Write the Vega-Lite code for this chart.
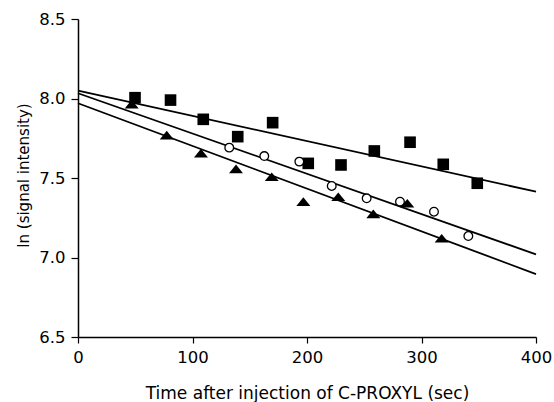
{
  "$schema": "https://vega.github.io/schema/vega-lite/v6.json",
  "width": 458,
  "height": 318,
  "autosize": {"type": "none"},
  "padding": {"left": 78, "top": 19, "right": 18, "bottom": 65},
  "background": "white",
  "config": {
    "view": {"stroke": null},
    "axis": {
      "grid": false,
      "domainColor": "black",
      "domainWidth": 1.5,
      "tickColor": "black",
      "tickWidth": 1.2,
      "labelColor": "black",
      "labelFont": "DejaVu Sans",
      "labelFontSize": 16.5,
      "labelPadding": 6,
      "labelFlush": false,
      "titleColor": "black",
      "titleFont": "DejaVu Sans",
      "titleFontWeight": "normal"
    }
  },
  "datasets": {
    "pts": [
      {"series": "squares", "t": 49.8, "v": 8.005},
      {"series": "squares", "t": 80.8, "v": 7.99},
      {"series": "squares", "t": 109.4, "v": 7.869},
      {"series": "squares", "t": 139.5, "v": 7.76},
      {"series": "squares", "t": 170.0, "v": 7.848},
      {"series": "squares", "t": 201.1, "v": 7.592},
      {"series": "squares", "t": 229.7, "v": 7.582},
      {"series": "squares", "t": 258.8, "v": 7.67},
      {"series": "squares", "t": 290.0, "v": 7.725},
      {"series": "squares", "t": 319.0, "v": 7.586},
      {"series": "squares", "t": 348.7, "v": 7.467},
      {"series": "circles", "t": 132.1, "v": 7.691},
      {"series": "circles", "t": 162.7, "v": 7.638},
      {"series": "circles", "t": 193.3, "v": 7.603},
      {"series": "circles", "t": 221.6, "v": 7.45},
      {"series": "circles", "t": 252.1, "v": 7.372},
      {"series": "circles", "t": 281.2, "v": 7.351},
      {"series": "circles", "t": 310.9, "v": 7.288},
      {"series": "circles", "t": 340.9, "v": 7.135},
      {"series": "triangles", "t": 46.9, "v": 7.965},
      {"series": "triangles", "t": 77.5, "v": 7.77},
      {"series": "triangles", "t": 107.4, "v": 7.657},
      {"series": "triangles", "t": 138.0, "v": 7.557},
      {"series": "triangles", "t": 169.2, "v": 7.508},
      {"series": "triangles", "t": 196.8, "v": 7.351},
      {"series": "triangles", "t": 227.3, "v": 7.382},
      {"series": "triangles", "t": 257.9, "v": 7.274},
      {"series": "triangles", "t": 287.6, "v": 7.341},
      {"series": "triangles", "t": 317.6, "v": 7.121}
    ],
    "fits": [
      {"series": "squares", "t": 0, "v": 8.05},
      {"series": "squares", "t": 400, "v": 7.414},
      {"series": "circles", "t": 0, "v": 8.033},
      {"series": "circles", "t": 400, "v": 7.02},
      {"series": "triangles", "t": 0, "v": 7.97},
      {"series": "triangles", "t": 400, "v": 6.896}
    ]
  },
  "encoding": {
    "x": {
      "field": "t",
      "type": "quantitative",
      "scale": {"domain": [0, 400], "nice": false, "zero": false},
      "axis": {
        "values": [0, 100, 200, 300, 400],
        "tickSize": 6,
        "title": "Time after injection of C-PROXYL (sec)",
        "titleFontSize": 17,
        "titleBaseline": "alphabetic",
        "titleY": 61.5
      }
    },
    "y": {
      "field": "v",
      "type": "quantitative",
      "scale": {"domain": [6.5, 8.5], "nice": false, "zero": false},
      "axis": {
        "values": [6.5, 7.0, 7.5, 8.0, 8.5],
        "format": ".1f",
        "tickSize": 7,
        "title": "ln (signal intensity)",
        "titleFontSize": 15,
        "titleAngle": -90,
        "titleAlign": "center",
        "titleBaseline": "alphabetic",
        "titleX": -49.5,
        "titleY": 156
      }
    }
  },
  "layer": [
    {
      "data": {"name": "fits"},
      "mark": {"type": "line", "color": "black", "strokeWidth": 1.8},
      "encoding": {"detail": {"field": "series"}}
    },
    {
      "data": {"name": "pts"},
      "transform": [{"filter": "datum.series === 'squares'"}],
      "mark": {"type": "point", "shape": "square", "filled": true, "color": "black", "opacity": 1, "size": 135}
    },
    {
      "data": {"name": "pts"},
      "transform": [{"filter": "datum.series === 'circles'"}],
      "mark": {"type": "point", "shape": "circle", "filled": true, "fill": "white", "stroke": "black", "strokeWidth": 1.3, "opacity": 1, "size": 75}
    },
    {
      "data": {"name": "pts"},
      "transform": [{"filter": "datum.series === 'triangles'"}],
      "mark": {"type": "point", "shape": "M0,-0.62L-1,0.62L1,0.62Z", "filled": true, "color": "black", "opacity": 1, "size": 196}
    }
  ]
}
